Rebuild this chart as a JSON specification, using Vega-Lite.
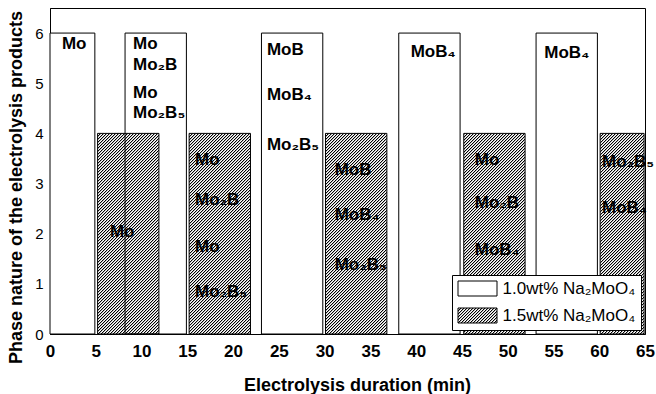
{
"$schema": "https://vega.github.io/schema/vega-lite/v6.json",
"width": 595, "height": 326,
"autosize": {"type": "none"},
"padding": {"left": 50, "top": 8, "right": 11, "bottom": 60},
"background": "white",
"config": {
 "view": {"stroke": "black", "strokeWidth": 1},
 "font": "Liberation Sans",
 "axis": {"grid": false, "ticks": false, "domainColor": "black", "domainWidth": 1, "labelColor": "black", "titleColor": "black", "labelFont": "Liberation Sans", "titleFont": "Liberation Sans", "labelFlush": false, "labelOverlap": false}
},
"params": [{"name": "hatch", "value": [
{"offset":0,"color":"#000"},{"offset":0.003333,"color":"#000"},{"offset":0.003333,"color":"#0004"},{"offset":0.006667,"color":"#0004"},{"offset":0.006667,"color":"#0000"},{"offset":0.01,"color":"#0000"},
{"offset":0.01,"color":"#000"},{"offset":0.013333,"color":"#000"},{"offset":0.013333,"color":"#0004"},{"offset":0.016667,"color":"#0004"},{"offset":0.016667,"color":"#0000"},{"offset":0.02,"color":"#0000"},
{"offset":0.02,"color":"#000"},{"offset":0.023333,"color":"#000"},{"offset":0.023333,"color":"#0004"},{"offset":0.026667,"color":"#0004"},{"offset":0.026667,"color":"#0000"},{"offset":0.03,"color":"#0000"},
{"offset":0.03,"color":"#000"},{"offset":0.033333,"color":"#000"},{"offset":0.033333,"color":"#0004"},{"offset":0.036667,"color":"#0004"},{"offset":0.036667,"color":"#0000"},{"offset":0.04,"color":"#0000"},
{"offset":0.04,"color":"#000"},{"offset":0.043333,"color":"#000"},{"offset":0.043333,"color":"#0004"},{"offset":0.046667,"color":"#0004"},{"offset":0.046667,"color":"#0000"},{"offset":0.05,"color":"#0000"},
{"offset":0.05,"color":"#000"},{"offset":0.053333,"color":"#000"},{"offset":0.053333,"color":"#0004"},{"offset":0.056667,"color":"#0004"},{"offset":0.056667,"color":"#0000"},{"offset":0.06,"color":"#0000"},
{"offset":0.06,"color":"#000"},{"offset":0.063333,"color":"#000"},{"offset":0.063333,"color":"#0004"},{"offset":0.066667,"color":"#0004"},{"offset":0.066667,"color":"#0000"},{"offset":0.07,"color":"#0000"},
{"offset":0.07,"color":"#000"},{"offset":0.073333,"color":"#000"},{"offset":0.073333,"color":"#0004"},{"offset":0.076667,"color":"#0004"},{"offset":0.076667,"color":"#0000"},{"offset":0.08,"color":"#0000"},
{"offset":0.08,"color":"#000"},{"offset":0.083333,"color":"#000"},{"offset":0.083333,"color":"#0004"},{"offset":0.086667,"color":"#0004"},{"offset":0.086667,"color":"#0000"},{"offset":0.09,"color":"#0000"},
{"offset":0.09,"color":"#000"},{"offset":0.093333,"color":"#000"},{"offset":0.093333,"color":"#0004"},{"offset":0.096667,"color":"#0004"},{"offset":0.096667,"color":"#0000"},{"offset":0.1,"color":"#0000"},
{"offset":0.1,"color":"#000"},{"offset":0.103333,"color":"#000"},{"offset":0.103333,"color":"#0004"},{"offset":0.106667,"color":"#0004"},{"offset":0.106667,"color":"#0000"},{"offset":0.11,"color":"#0000"},
{"offset":0.11,"color":"#000"},{"offset":0.113333,"color":"#000"},{"offset":0.113333,"color":"#0004"},{"offset":0.116667,"color":"#0004"},{"offset":0.116667,"color":"#0000"},{"offset":0.12,"color":"#0000"},
{"offset":0.12,"color":"#000"},{"offset":0.123333,"color":"#000"},{"offset":0.123333,"color":"#0004"},{"offset":0.126667,"color":"#0004"},{"offset":0.126667,"color":"#0000"},{"offset":0.13,"color":"#0000"},
{"offset":0.13,"color":"#000"},{"offset":0.133333,"color":"#000"},{"offset":0.133333,"color":"#0004"},{"offset":0.136667,"color":"#0004"},{"offset":0.136667,"color":"#0000"},{"offset":0.14,"color":"#0000"},
{"offset":0.14,"color":"#000"},{"offset":0.143333,"color":"#000"},{"offset":0.143333,"color":"#0004"},{"offset":0.146667,"color":"#0004"},{"offset":0.146667,"color":"#0000"},{"offset":0.15,"color":"#0000"},
{"offset":0.15,"color":"#000"},{"offset":0.153333,"color":"#000"},{"offset":0.153333,"color":"#0004"},{"offset":0.156667,"color":"#0004"},{"offset":0.156667,"color":"#0000"},{"offset":0.16,"color":"#0000"},
{"offset":0.16,"color":"#000"},{"offset":0.163333,"color":"#000"},{"offset":0.163333,"color":"#0004"},{"offset":0.166667,"color":"#0004"},{"offset":0.166667,"color":"#0000"},{"offset":0.17,"color":"#0000"},
{"offset":0.17,"color":"#000"},{"offset":0.173333,"color":"#000"},{"offset":0.173333,"color":"#0004"},{"offset":0.176667,"color":"#0004"},{"offset":0.176667,"color":"#0000"},{"offset":0.18,"color":"#0000"},
{"offset":0.18,"color":"#000"},{"offset":0.183333,"color":"#000"},{"offset":0.183333,"color":"#0004"},{"offset":0.186667,"color":"#0004"},{"offset":0.186667,"color":"#0000"},{"offset":0.19,"color":"#0000"},
{"offset":0.19,"color":"#000"},{"offset":0.193333,"color":"#000"},{"offset":0.193333,"color":"#0004"},{"offset":0.196667,"color":"#0004"},{"offset":0.196667,"color":"#0000"},{"offset":0.2,"color":"#0000"},
{"offset":0.2,"color":"#000"},{"offset":0.203333,"color":"#000"},{"offset":0.203333,"color":"#0004"},{"offset":0.206667,"color":"#0004"},{"offset":0.206667,"color":"#0000"},{"offset":0.21,"color":"#0000"},
{"offset":0.21,"color":"#000"},{"offset":0.213333,"color":"#000"},{"offset":0.213333,"color":"#0004"},{"offset":0.216667,"color":"#0004"},{"offset":0.216667,"color":"#0000"},{"offset":0.22,"color":"#0000"},
{"offset":0.22,"color":"#000"},{"offset":0.223333,"color":"#000"},{"offset":0.223333,"color":"#0004"},{"offset":0.226667,"color":"#0004"},{"offset":0.226667,"color":"#0000"},{"offset":0.23,"color":"#0000"},
{"offset":0.23,"color":"#000"},{"offset":0.233333,"color":"#000"},{"offset":0.233333,"color":"#0004"},{"offset":0.236667,"color":"#0004"},{"offset":0.236667,"color":"#0000"},{"offset":0.24,"color":"#0000"},
{"offset":0.24,"color":"#000"},{"offset":0.243333,"color":"#000"},{"offset":0.243333,"color":"#0004"},{"offset":0.246667,"color":"#0004"},{"offset":0.246667,"color":"#0000"},{"offset":0.25,"color":"#0000"},
{"offset":0.25,"color":"#000"},{"offset":0.253333,"color":"#000"},{"offset":0.253333,"color":"#0004"},{"offset":0.256667,"color":"#0004"},{"offset":0.256667,"color":"#0000"},{"offset":0.26,"color":"#0000"},
{"offset":0.26,"color":"#000"},{"offset":0.263333,"color":"#000"},{"offset":0.263333,"color":"#0004"},{"offset":0.266667,"color":"#0004"},{"offset":0.266667,"color":"#0000"},{"offset":0.27,"color":"#0000"},
{"offset":0.27,"color":"#000"},{"offset":0.273333,"color":"#000"},{"offset":0.273333,"color":"#0004"},{"offset":0.276667,"color":"#0004"},{"offset":0.276667,"color":"#0000"},{"offset":0.28,"color":"#0000"},
{"offset":0.28,"color":"#000"},{"offset":0.283333,"color":"#000"},{"offset":0.283333,"color":"#0004"},{"offset":0.286667,"color":"#0004"},{"offset":0.286667,"color":"#0000"},{"offset":0.29,"color":"#0000"},
{"offset":0.29,"color":"#000"},{"offset":0.293333,"color":"#000"},{"offset":0.293333,"color":"#0004"},{"offset":0.296667,"color":"#0004"},{"offset":0.296667,"color":"#0000"},{"offset":0.3,"color":"#0000"},
{"offset":0.3,"color":"#000"},{"offset":0.303333,"color":"#000"},{"offset":0.303333,"color":"#0004"},{"offset":0.306667,"color":"#0004"},{"offset":0.306667,"color":"#0000"},{"offset":0.31,"color":"#0000"},
{"offset":0.31,"color":"#000"},{"offset":0.313333,"color":"#000"},{"offset":0.313333,"color":"#0004"},{"offset":0.316667,"color":"#0004"},{"offset":0.316667,"color":"#0000"},{"offset":0.32,"color":"#0000"},
{"offset":0.32,"color":"#000"},{"offset":0.323333,"color":"#000"},{"offset":0.323333,"color":"#0004"},{"offset":0.326667,"color":"#0004"},{"offset":0.326667,"color":"#0000"},{"offset":0.33,"color":"#0000"},
{"offset":0.33,"color":"#000"},{"offset":0.333333,"color":"#000"},{"offset":0.333333,"color":"#0004"},{"offset":0.336667,"color":"#0004"},{"offset":0.336667,"color":"#0000"},{"offset":0.34,"color":"#0000"},
{"offset":0.34,"color":"#000"},{"offset":0.343333,"color":"#000"},{"offset":0.343333,"color":"#0004"},{"offset":0.346667,"color":"#0004"},{"offset":0.346667,"color":"#0000"},{"offset":0.35,"color":"#0000"},
{"offset":0.35,"color":"#000"},{"offset":0.353333,"color":"#000"},{"offset":0.353333,"color":"#0004"},{"offset":0.356667,"color":"#0004"},{"offset":0.356667,"color":"#0000"},{"offset":0.36,"color":"#0000"},
{"offset":0.36,"color":"#000"},{"offset":0.363333,"color":"#000"},{"offset":0.363333,"color":"#0004"},{"offset":0.366667,"color":"#0004"},{"offset":0.366667,"color":"#0000"},{"offset":0.37,"color":"#0000"},
{"offset":0.37,"color":"#000"},{"offset":0.373333,"color":"#000"},{"offset":0.373333,"color":"#0004"},{"offset":0.376667,"color":"#0004"},{"offset":0.376667,"color":"#0000"},{"offset":0.38,"color":"#0000"},
{"offset":0.38,"color":"#000"},{"offset":0.383333,"color":"#000"},{"offset":0.383333,"color":"#0004"},{"offset":0.386667,"color":"#0004"},{"offset":0.386667,"color":"#0000"},{"offset":0.39,"color":"#0000"},
{"offset":0.39,"color":"#000"},{"offset":0.393333,"color":"#000"},{"offset":0.393333,"color":"#0004"},{"offset":0.396667,"color":"#0004"},{"offset":0.396667,"color":"#0000"},{"offset":0.4,"color":"#0000"},
{"offset":0.4,"color":"#000"},{"offset":0.403333,"color":"#000"},{"offset":0.403333,"color":"#0004"},{"offset":0.406667,"color":"#0004"},{"offset":0.406667,"color":"#0000"},{"offset":0.41,"color":"#0000"},
{"offset":0.41,"color":"#000"},{"offset":0.413333,"color":"#000"},{"offset":0.413333,"color":"#0004"},{"offset":0.416667,"color":"#0004"},{"offset":0.416667,"color":"#0000"},{"offset":0.42,"color":"#0000"},
{"offset":0.42,"color":"#000"},{"offset":0.423333,"color":"#000"},{"offset":0.423333,"color":"#0004"},{"offset":0.426667,"color":"#0004"},{"offset":0.426667,"color":"#0000"},{"offset":0.43,"color":"#0000"},
{"offset":0.43,"color":"#000"},{"offset":0.433333,"color":"#000"},{"offset":0.433333,"color":"#0004"},{"offset":0.436667,"color":"#0004"},{"offset":0.436667,"color":"#0000"},{"offset":0.44,"color":"#0000"},
{"offset":0.44,"color":"#000"},{"offset":0.443333,"color":"#000"},{"offset":0.443333,"color":"#0004"},{"offset":0.446667,"color":"#0004"},{"offset":0.446667,"color":"#0000"},{"offset":0.45,"color":"#0000"},
{"offset":0.45,"color":"#000"},{"offset":0.453333,"color":"#000"},{"offset":0.453333,"color":"#0004"},{"offset":0.456667,"color":"#0004"},{"offset":0.456667,"color":"#0000"},{"offset":0.46,"color":"#0000"},
{"offset":0.46,"color":"#000"},{"offset":0.463333,"color":"#000"},{"offset":0.463333,"color":"#0004"},{"offset":0.466667,"color":"#0004"},{"offset":0.466667,"color":"#0000"},{"offset":0.47,"color":"#0000"},
{"offset":0.47,"color":"#000"},{"offset":0.473333,"color":"#000"},{"offset":0.473333,"color":"#0004"},{"offset":0.476667,"color":"#0004"},{"offset":0.476667,"color":"#0000"},{"offset":0.48,"color":"#0000"},
{"offset":0.48,"color":"#000"},{"offset":0.483333,"color":"#000"},{"offset":0.483333,"color":"#0004"},{"offset":0.486667,"color":"#0004"},{"offset":0.486667,"color":"#0000"},{"offset":0.49,"color":"#0000"},
{"offset":0.49,"color":"#000"},{"offset":0.493333,"color":"#000"},{"offset":0.493333,"color":"#0004"},{"offset":0.496667,"color":"#0004"},{"offset":0.496667,"color":"#0000"},{"offset":0.5,"color":"#0000"},
{"offset":0.5,"color":"#000"},{"offset":0.503333,"color":"#000"},{"offset":0.503333,"color":"#0004"},{"offset":0.506667,"color":"#0004"},{"offset":0.506667,"color":"#0000"},{"offset":0.51,"color":"#0000"},
{"offset":0.51,"color":"#000"},{"offset":0.513333,"color":"#000"},{"offset":0.513333,"color":"#0004"},{"offset":0.516667,"color":"#0004"},{"offset":0.516667,"color":"#0000"},{"offset":0.52,"color":"#0000"},
{"offset":0.52,"color":"#000"},{"offset":0.523333,"color":"#000"},{"offset":0.523333,"color":"#0004"},{"offset":0.526667,"color":"#0004"},{"offset":0.526667,"color":"#0000"},{"offset":0.53,"color":"#0000"},
{"offset":0.53,"color":"#000"},{"offset":0.533333,"color":"#000"},{"offset":0.533333,"color":"#0004"},{"offset":0.536667,"color":"#0004"},{"offset":0.536667,"color":"#0000"},{"offset":0.54,"color":"#0000"},
{"offset":0.54,"color":"#000"},{"offset":0.543333,"color":"#000"},{"offset":0.543333,"color":"#0004"},{"offset":0.546667,"color":"#0004"},{"offset":0.546667,"color":"#0000"},{"offset":0.55,"color":"#0000"},
{"offset":0.55,"color":"#000"},{"offset":0.553333,"color":"#000"},{"offset":0.553333,"color":"#0004"},{"offset":0.556667,"color":"#0004"},{"offset":0.556667,"color":"#0000"},{"offset":0.56,"color":"#0000"},
{"offset":0.56,"color":"#000"},{"offset":0.563333,"color":"#000"},{"offset":0.563333,"color":"#0004"},{"offset":0.566667,"color":"#0004"},{"offset":0.566667,"color":"#0000"},{"offset":0.57,"color":"#0000"},
{"offset":0.57,"color":"#000"},{"offset":0.573333,"color":"#000"},{"offset":0.573333,"color":"#0004"},{"offset":0.576667,"color":"#0004"},{"offset":0.576667,"color":"#0000"},{"offset":0.58,"color":"#0000"},
{"offset":0.58,"color":"#000"},{"offset":0.583333,"color":"#000"},{"offset":0.583333,"color":"#0004"},{"offset":0.586667,"color":"#0004"},{"offset":0.586667,"color":"#0000"},{"offset":0.59,"color":"#0000"},
{"offset":0.59,"color":"#000"},{"offset":0.593333,"color":"#000"},{"offset":0.593333,"color":"#0004"},{"offset":0.596667,"color":"#0004"},{"offset":0.596667,"color":"#0000"},{"offset":0.6,"color":"#0000"},
{"offset":0.6,"color":"#000"},{"offset":0.603333,"color":"#000"},{"offset":0.603333,"color":"#0004"},{"offset":0.606667,"color":"#0004"},{"offset":0.606667,"color":"#0000"},{"offset":0.61,"color":"#0000"},
{"offset":0.61,"color":"#000"},{"offset":0.613333,"color":"#000"},{"offset":0.613333,"color":"#0004"},{"offset":0.616667,"color":"#0004"},{"offset":0.616667,"color":"#0000"},{"offset":0.62,"color":"#0000"},
{"offset":0.62,"color":"#000"},{"offset":0.623333,"color":"#000"},{"offset":0.623333,"color":"#0004"},{"offset":0.626667,"color":"#0004"},{"offset":0.626667,"color":"#0000"},{"offset":0.63,"color":"#0000"},
{"offset":0.63,"color":"#000"},{"offset":0.633333,"color":"#000"},{"offset":0.633333,"color":"#0004"},{"offset":0.636667,"color":"#0004"},{"offset":0.636667,"color":"#0000"},{"offset":0.64,"color":"#0000"},
{"offset":0.64,"color":"#000"},{"offset":0.643333,"color":"#000"},{"offset":0.643333,"color":"#0004"},{"offset":0.646667,"color":"#0004"},{"offset":0.646667,"color":"#0000"},{"offset":0.65,"color":"#0000"},
{"offset":0.65,"color":"#000"},{"offset":0.653333,"color":"#000"},{"offset":0.653333,"color":"#0004"},{"offset":0.656667,"color":"#0004"},{"offset":0.656667,"color":"#0000"},{"offset":0.66,"color":"#0000"},
{"offset":0.66,"color":"#000"},{"offset":0.663333,"color":"#000"},{"offset":0.663333,"color":"#0004"},{"offset":0.666667,"color":"#0004"},{"offset":0.666667,"color":"#0000"},{"offset":0.67,"color":"#0000"},
{"offset":0.67,"color":"#000"},{"offset":0.673333,"color":"#000"},{"offset":0.673333,"color":"#0004"},{"offset":0.676667,"color":"#0004"},{"offset":0.676667,"color":"#0000"},{"offset":0.68,"color":"#0000"},
{"offset":0.68,"color":"#000"},{"offset":0.683333,"color":"#000"},{"offset":0.683333,"color":"#0004"},{"offset":0.686667,"color":"#0004"},{"offset":0.686667,"color":"#0000"},{"offset":0.69,"color":"#0000"},
{"offset":0.69,"color":"#000"},{"offset":0.693333,"color":"#000"},{"offset":0.693333,"color":"#0004"},{"offset":0.696667,"color":"#0004"},{"offset":0.696667,"color":"#0000"},{"offset":0.7,"color":"#0000"},
{"offset":0.7,"color":"#000"},{"offset":0.703333,"color":"#000"},{"offset":0.703333,"color":"#0004"},{"offset":0.706667,"color":"#0004"},{"offset":0.706667,"color":"#0000"},{"offset":0.71,"color":"#0000"},
{"offset":0.71,"color":"#000"},{"offset":0.713333,"color":"#000"},{"offset":0.713333,"color":"#0004"},{"offset":0.716667,"color":"#0004"},{"offset":0.716667,"color":"#0000"},{"offset":0.72,"color":"#0000"},
{"offset":0.72,"color":"#000"},{"offset":0.723333,"color":"#000"},{"offset":0.723333,"color":"#0004"},{"offset":0.726667,"color":"#0004"},{"offset":0.726667,"color":"#0000"},{"offset":0.73,"color":"#0000"},
{"offset":0.73,"color":"#000"},{"offset":0.733333,"color":"#000"},{"offset":0.733333,"color":"#0004"},{"offset":0.736667,"color":"#0004"},{"offset":0.736667,"color":"#0000"},{"offset":0.74,"color":"#0000"},
{"offset":0.74,"color":"#000"},{"offset":0.743333,"color":"#000"},{"offset":0.743333,"color":"#0004"},{"offset":0.746667,"color":"#0004"},{"offset":0.746667,"color":"#0000"},{"offset":0.75,"color":"#0000"},
{"offset":0.75,"color":"#000"},{"offset":0.753333,"color":"#000"},{"offset":0.753333,"color":"#0004"},{"offset":0.756667,"color":"#0004"},{"offset":0.756667,"color":"#0000"},{"offset":0.76,"color":"#0000"},
{"offset":0.76,"color":"#000"},{"offset":0.763333,"color":"#000"},{"offset":0.763333,"color":"#0004"},{"offset":0.766667,"color":"#0004"},{"offset":0.766667,"color":"#0000"},{"offset":0.77,"color":"#0000"},
{"offset":0.77,"color":"#000"},{"offset":0.773333,"color":"#000"},{"offset":0.773333,"color":"#0004"},{"offset":0.776667,"color":"#0004"},{"offset":0.776667,"color":"#0000"},{"offset":0.78,"color":"#0000"},
{"offset":0.78,"color":"#000"},{"offset":0.783333,"color":"#000"},{"offset":0.783333,"color":"#0004"},{"offset":0.786667,"color":"#0004"},{"offset":0.786667,"color":"#0000"},{"offset":0.79,"color":"#0000"},
{"offset":0.79,"color":"#000"},{"offset":0.793333,"color":"#000"},{"offset":0.793333,"color":"#0004"},{"offset":0.796667,"color":"#0004"},{"offset":0.796667,"color":"#0000"},{"offset":0.8,"color":"#0000"},
{"offset":0.8,"color":"#000"},{"offset":0.803333,"color":"#000"},{"offset":0.803333,"color":"#0004"},{"offset":0.806667,"color":"#0004"},{"offset":0.806667,"color":"#0000"},{"offset":0.81,"color":"#0000"},
{"offset":0.81,"color":"#000"},{"offset":0.813333,"color":"#000"},{"offset":0.813333,"color":"#0004"},{"offset":0.816667,"color":"#0004"},{"offset":0.816667,"color":"#0000"},{"offset":0.82,"color":"#0000"},
{"offset":0.82,"color":"#000"},{"offset":0.823333,"color":"#000"},{"offset":0.823333,"color":"#0004"},{"offset":0.826667,"color":"#0004"},{"offset":0.826667,"color":"#0000"},{"offset":0.83,"color":"#0000"},
{"offset":0.83,"color":"#000"},{"offset":0.833333,"color":"#000"},{"offset":0.833333,"color":"#0004"},{"offset":0.836667,"color":"#0004"},{"offset":0.836667,"color":"#0000"},{"offset":0.84,"color":"#0000"},
{"offset":0.84,"color":"#000"},{"offset":0.843333,"color":"#000"},{"offset":0.843333,"color":"#0004"},{"offset":0.846667,"color":"#0004"},{"offset":0.846667,"color":"#0000"},{"offset":0.85,"color":"#0000"},
{"offset":0.85,"color":"#000"},{"offset":0.853333,"color":"#000"},{"offset":0.853333,"color":"#0004"},{"offset":0.856667,"color":"#0004"},{"offset":0.856667,"color":"#0000"},{"offset":0.86,"color":"#0000"},
{"offset":0.86,"color":"#000"},{"offset":0.863333,"color":"#000"},{"offset":0.863333,"color":"#0004"},{"offset":0.866667,"color":"#0004"},{"offset":0.866667,"color":"#0000"},{"offset":0.87,"color":"#0000"},
{"offset":0.87,"color":"#000"},{"offset":0.873333,"color":"#000"},{"offset":0.873333,"color":"#0004"},{"offset":0.876667,"color":"#0004"},{"offset":0.876667,"color":"#0000"},{"offset":0.88,"color":"#0000"}
]}],
"datasets": {
 "bars": [
  {"series": "1.0wt% Na₂MoO₄", "start": 0, "end": 4.9, "value": 6},
  {"series": "1.0wt% Na₂MoO₄", "start": 8.2, "end": 14.9, "value": 6},
  {"series": "1.0wt% Na₂MoO₄", "start": 23.1, "end": 29.8, "value": 6},
  {"series": "1.0wt% Na₂MoO₄", "start": 38.1, "end": 44.8, "value": 6},
  {"series": "1.0wt% Na₂MoO₄", "start": 53.1, "end": 59.8, "value": 6},
  {"series": "1.5wt% Na₂MoO₄", "start": 5.2, "end": 11.9, "value": 4},
  {"series": "1.5wt% Na₂MoO₄", "start": 15.2, "end": 21.9, "value": 4},
  {"series": "1.5wt% Na₂MoO₄", "start": 30.1, "end": 36.8, "value": 4},
  {"series": "1.5wt% Na₂MoO₄", "start": 45.2, "end": 51.9, "value": 4},
  {"series": "1.5wt% Na₂MoO₄", "start": 60.1, "end": 64.9, "value": 4}
 ],
 "labels": [
  {"x": 1.3, "y": 5.78, "t": "Mo"},
  {"x": 9.07, "y": 5.78, "t": "Mo"},
  {"x": 9.07, "y": 5.36, "t": "Mo₂B"},
  {"x": 9.07, "y": 4.81, "t": "Mo"},
  {"x": 9.07, "y": 4.41, "t": "Mo₂B₅"},
  {"x": 23.7, "y": 5.66, "t": "MoB"},
  {"x": 23.7, "y": 4.77, "t": "MoB₄"},
  {"x": 23.7, "y": 3.77, "t": "Mo₂B₅"},
  {"x": 39.4, "y": 5.62, "t": "MoB₄"},
  {"x": 54.0, "y": 5.6, "t": "MoB₄"},
  {"x": 6.55, "y": 2.03, "t": "Mo"},
  {"x": 15.84, "y": 3.47, "t": "Mo"},
  {"x": 15.84, "y": 2.67, "t": "Mo₂B"},
  {"x": 15.84, "y": 1.73, "t": "Mo"},
  {"x": 15.84, "y": 0.84, "t": "Mo₂B₅"},
  {"x": 31.1, "y": 3.27, "t": "MoB"},
  {"x": 31.1, "y": 2.37, "t": "MoB₄"},
  {"x": 31.1, "y": 1.38, "t": "Mo₂B₅"},
  {"x": 46.4, "y": 3.47, "t": "Mo"},
  {"x": 46.4, "y": 2.61, "t": "Mo₂B"},
  {"x": 46.4, "y": 1.67, "t": "MoB₄"},
  {"x": 60.3, "y": 3.43, "t": "Mo₂B₅"},
  {"x": 60.3, "y": 2.51, "t": "MoB₄"}
 ]
},
"layer": [
 {
  "data": {"name": "bars"},
  "mark": {"type": "bar", "opacity": 0,
    "fill": {"expr": "datum.value === '1.5wt% Na₂MoO₄' ? {gradient: 'linear', x1: 0, y1: 0, x2: 6.6991, y2: 2.5792, stops: hatch} : 'white'"}},
  "encoding": {
   "x": {"field": "start", "type": "quantitative", "scale": {"domain": [0, 65], "nice": false, "zero": false},
     "axis": {"title": "Electrolysis duration (min)", "values": [0,5,10,15,20,25,30,35,40,45,50,55,60,65], "labelFontSize": 17, "labelFontWeight": "bold", "labelPadding": 9, "titleFontSize": 18, "titleFontWeight": "bold", "titleX": 307, "titleY": 56, "titleBaseline": "alphabetic"}},
   "x2": {"field": "end"},
   "y": {"field": "value", "type": "quantitative", "scale": {"domain": [0, 6.5], "nice": false},
     "axis": {"title": "Phase nature of the electrolysis products", "values": [0,1,2,3,4,5,6], "labelFontSize": 15, "labelFontWeight": "normal", "labelPadding": 7, "titleFontSize": 18, "titleFontWeight": "bold", "titleX": -25, "titleY": 179}},
   "y2": {"datum": 0},
   "stroke": {"field": "series", "type": "nominal",
     "scale": {"domain": ["1.0wt% Na₂MoO₄", "1.5wt% Na₂MoO₄"], "range": ["black", "black"]},
     "legend": {"title": null, "orient": "bottom-right", "offset": 4, "padding": 5, "strokeColor": "black", "fillColor": "white", "cornerRadius": 0,
       "labelFontSize": 17, "labelFont": "Liberation Sans", "labelColor": "black", "labelOffset": 28.5, "labelLimit": 300, "rowPadding": 8,
       "symbolType": "M-1,-1L4.2,-1L4.2,1L-1,1Z", "symbolSize": 225, "symbolStrokeColor": "black", "symbolStrokeWidth": 1, "symbolOpacity": 1}}
  }
 },
 {
  "data": {"name": "bars"},
  "transform": [{"filter": "datum.value == 6"}],
  "mark": {"type": "bar", "stroke": "black", "strokeWidth": 1, "fill": "white"},
  "encoding": {
   "x": {"field": "start", "type": "quantitative"},
   "x2": {"field": "end"},
   "y": {"field": "value", "type": "quantitative"},
   "y2": {"datum": 0}
  }
 },
 {
  "data": {"name": "bars"},
  "transform": [{"filter": "datum.value == 4 && datum.start < 60"}],
  "mark": {"type": "bar", "stroke": "black", "strokeWidth": 1,
    "fill": {"expr": "{gradient: 'linear', x1: 0, y1: 0, x2: 0.41809, y2: 1.36759, stops: hatch}"}},
  "encoding": {
   "x": {"field": "start", "type": "quantitative"},
   "x2": {"field": "end"},
   "y": {"field": "value", "type": "quantitative"},
   "y2": {"datum": 0}
  }
 },
 {
  "data": {"name": "bars"},
  "transform": [{"filter": "datum.value == 4 && datum.start >= 60"}],
  "mark": {"type": "bar", "stroke": "black", "strokeWidth": 1,
    "fill": {"expr": "{gradient: 'linear', x1: 0, y1: 0, x2: 0.31253, y2: 1.42695, stops: hatch}"}},
  "encoding": {
   "x": {"field": "start", "type": "quantitative"},
   "x2": {"field": "end"},
   "y": {"field": "value", "type": "quantitative"},
   "y2": {"datum": 0}
  }
 },
 {
  "data": {"name": "labels"},
  "mark": {"type": "text", "align": "left", "baseline": "middle", "fontSize": 17, "fontWeight": "bold", "font": "Liberation Sans", "color": "black"},
  "encoding": {
   "x": {"field": "x", "type": "quantitative"},
   "y": {"field": "y", "type": "quantitative"},
   "text": {"field": "t"}
  }
 }
]
}
